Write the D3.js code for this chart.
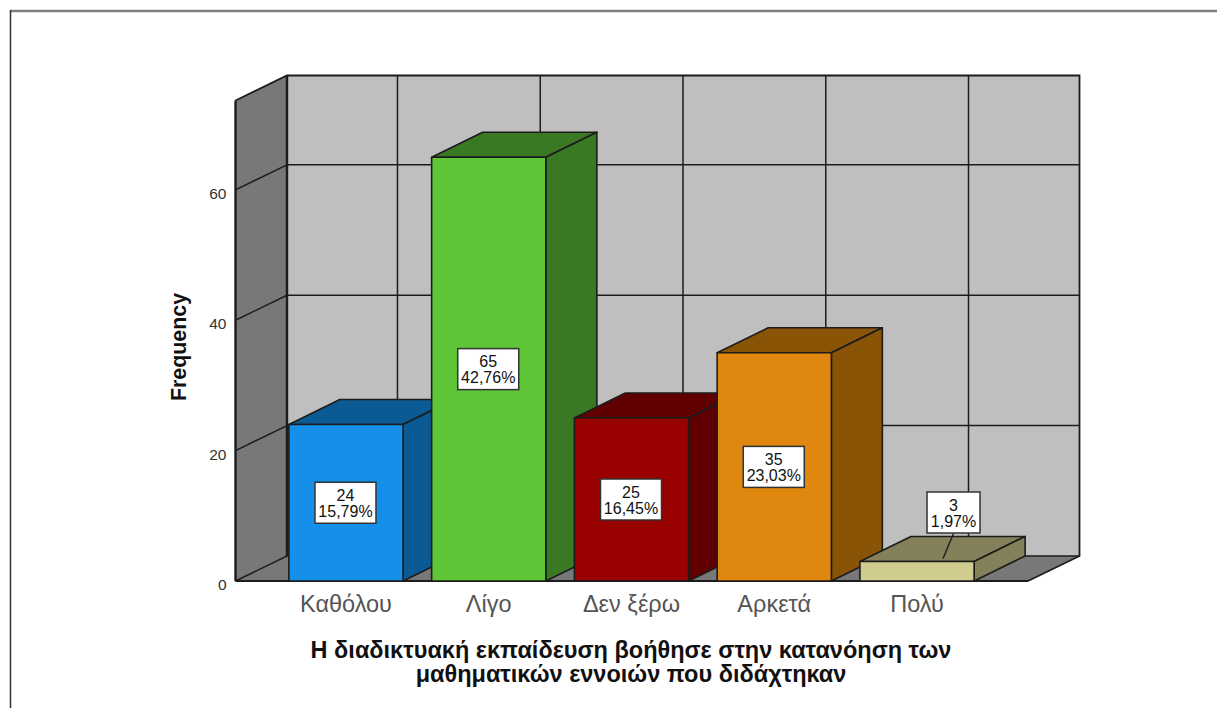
<!DOCTYPE html>
<html>
<head>
<meta charset="utf-8">
<style>
  html, body { margin: 0; padding: 0; background: #fff; overflow: hidden; }
  svg { display: block; }
  text { font-family: "Liberation Sans", Arial, sans-serif; }
</style>
<script src="https://cdnjs.cloudflare.com/ajax/libs/d3/7.8.5/d3.min.js"></script>
</head>
<body>
<svg id="chart" width="1217" height="708"></svg>
<script>
// Responses and their shares of the 152 answers
const categories = ["Καθόλου", "Λίγο", "Δεν ξέρω", "Αρκετά", "Πολύ"];
const frequencies = [24, 65, 25, 35, 3];
const percentLabels = ["15,79%", "42,76%", "16,45%", "23,03%", "1,97%"];
const frontColors = ["#1490ea", "#5ec536", "#990000", "#e0870f", "#d0cb8f"];
const sideColors = ["#0c5a93", "#3a7924", "#600000", "#8a5407", "#83805a"];
const yTicks = [0, 20, 40, 60];
const titleLines = [
  "Η διαδικτυακή εκπαίδευση βοήθησε στην κατανόηση των",
  "μαθηματικών εννοιών που διδάχτηκαν"
];

// Front plane of the 3D box, plus the oblique offset towards the back wall
const plot = { left: 235.5, right: 1028, bottom: 581, yMax: 73.7 };
const depth = { dx: 51.5, dy: -25 };
const ink = "#1c1c1c";

const svg = d3.select("#chart");
const y = d3.scaleLinear().domain([0, plot.yMax]).range([plot.bottom, 100.5]);
const x = d3.scaleBand().domain(categories).range([274.6, 988.4]).paddingInner(0.2).paddingOuter(0.1);
const center = c => x(c) + x.bandwidth() / 2;
const poly = pts => pts.map(p => p.join(",")).join(" ");

// Page frame, only its top and left edges fall inside the view
svg.append("line").attr("x1", 10).attr("x2", 1217).attr("y1", 11).attr("y2", 11)
  .attr("stroke", "#808080").attr("stroke-width", 2.5);
svg.append("line").attr("x1", 10.5).attr("x2", 10.5).attr("y1", 10).attr("y2", 708)
  .attr("stroke", "#333").attr("stroke-width", 1.5);

// Walls and floor
const frontTop = y(plot.yMax), base = y(0);
const backL = plot.left + depth.dx, backR = plot.right + depth.dx;
const backTop = frontTop + depth.dy, backBase = base + depth.dy;
svg.append("rect").attr("x", backL).attr("y", backTop)
  .attr("width", backR - backL).attr("height", backBase - backTop).attr("fill", "#bfbfbf");
svg.append("polygon").attr("fill", "#787878")
  .attr("points", poly([[plot.left, frontTop], [backL, backTop], [backL, backBase], [plot.left, base]]));
svg.append("polygon").attr("fill", "#787878")
  .attr("points", poly([[plot.left, base], [backL, backBase], [backR, backBase], [plot.right, base]]));

// Grid lines on the back wall, one per category and per tick
const grid = svg.append("g").attr("stroke", ink).attr("stroke-width", 1.5);
grid.selectAll(".gv").data(categories).join("line").attr("class", "gv")
  .attr("x1", d => center(d) + depth.dx).attr("x2", d => center(d) + depth.dx)
  .attr("y1", backTop).attr("y2", backBase);
grid.selectAll(".gh").data(yTicks).join("line").attr("class", "gh")
  .attr("x1", backL).attr("x2", backR)
  .attr("y1", d => y(d) + depth.dy).attr("y2", d => y(d) + depth.dy);
grid.selectAll(".gw").data(yTicks).join("line").attr("class", "gw")
  .attr("x1", plot.left).attr("x2", backL)
  .attr("y1", d => y(d)).attr("y2", d => y(d) + depth.dy);

// Box outline
const edges = svg.append("g").attr("stroke", ink).attr("fill", "none");
edges.append("polyline").attr("stroke-width", 1.8)
  .attr("points", poly([[plot.left, frontTop], [backL, backTop], [backR, backTop], [backR, backBase], [plot.right, base]]));
edges.append("line").attr("stroke-width", 2.4)
  .attr("x1", plot.left).attr("x2", plot.left).attr("y1", frontTop).attr("y2", base);
edges.append("line").attr("stroke-width", 2.4)
  .attr("x1", backL).attr("x2", backL).attr("y1", backTop).attr("y2", backBase);
edges.append("line").attr("stroke-width", 1.8)
  .attr("x1", plot.left).attr("x2", plot.right).attr("y1", base).attr("y2", base);

// Bars: front face, top face and right side, later bars overlap earlier ones
const bars = svg.selectAll(".bar").data(categories).join("g").attr("class", "bar")
  .attr("stroke", ink).attr("stroke-width", 1.6).attr("stroke-linejoin", "round");
const barDx = 51;
bars.each(function (c, i) {
  const g = d3.select(this);
  const l = x(c), r = l + x.bandwidth(), t = y(frequencies[i]);
  g.append("polygon").attr("fill", sideColors[i])
    .attr("points", poly([[l, t], [l + barDx, t + depth.dy], [r + barDx, t + depth.dy], [r, t]]));
  g.append("polygon").attr("fill", sideColors[i])
    .attr("points", poly([[r, t], [r + barDx, t + depth.dy], [r + barDx, base + depth.dy], [r, base]]));
  g.append("rect").attr("x", l).attr("y", t).attr("width", r - l).attr("height", base - t)
    .attr("fill", frontColors[i]);
});

// Value labels: centred on tall bars, lifted with a leader line on very short ones
const labelW = i => (percentLabels[i].length > 5 ? 61 : 53);
const labels = svg.selectAll(".lab").data(categories).join("g").attr("class", "lab");
labels.each(function (c, i) {
  const g = d3.select(this);
  const barTop = y(frequencies[i]);
  const short = base - barTop < 60;
  const cx = short ? center(c) + 36.5 : center(c) - 0.5;
  const cy = short ? 512.5 : (barTop + base) / 2;
  if (short) {
    g.append("line").attr("x1", cx).attr("y1", cy + 21)
      .attr("x2", center(c) + 26).attr("y2", barTop - 3)
      .attr("stroke", ink).attr("stroke-width", 1.4);
  }
  g.append("rect").attr("x", cx - labelW(i) / 2).attr("y", cy - 20.5)
    .attr("width", labelW(i)).attr("height", 41)
    .attr("fill", "#fff").attr("stroke", "#333").attr("stroke-width", 1.5);
  g.append("text").attr("x", cx).attr("y", cy - 2).attr("text-anchor", "middle")
    .attr("font-size", 16).attr("fill", "#111").text(frequencies[i]);
  g.append("text").attr("x", cx).attr("y", cy + 14).attr("text-anchor", "middle")
    .attr("font-size", 16).attr("fill", "#111").text(percentLabels[i]);
});

// Axes carry only their text, the box supplies the lines
const yAxis = svg.append("g").attr("transform", `translate(${plot.left},0)`)
  .call(d3.axisLeft(y).tickValues(yTicks).tickSize(0).tickPadding(9));
yAxis.select(".domain").remove();
yAxis.selectAll("text").attr("font-size", 15.5).attr("fill", "#333").attr("dy", "0.55em")
  .style("font-family", '"Liberation Sans", Arial, sans-serif');

const xAxis = svg.append("g").attr("transform", `translate(0,${plot.bottom})`)
  .call(d3.axisBottom(x).tickSize(0).tickPadding(14));
xAxis.select(".domain").remove();
xAxis.selectAll("text").attr("font-size", 23.5).attr("fill", "#555")
  .style("font-family", '"Liberation Sans", Arial, sans-serif');

// Axis titles
svg.append("text").attr("transform", "translate(186,347) rotate(-90)")
  .attr("text-anchor", "middle").attr("font-size", 21.4).attr("font-weight", "bold")
  .attr("fill", "#111").text("Frequency");
svg.selectAll(".title").data(titleLines).join("text").attr("class", "title")
  .attr("x", 631).attr("y", (d, i) => 658 + i * 23.5)
  .attr("text-anchor", "middle").attr("font-size", 23.5).attr("font-weight", "bold")
  .attr("fill", "#111").text(d => d);
</script>
</body>
</html>
